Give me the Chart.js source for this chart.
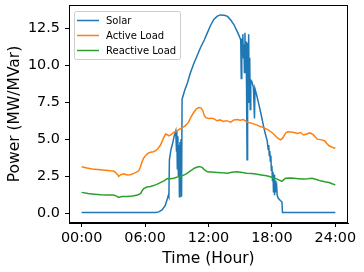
<!DOCTYPE html>
<html>
<head>
<meta charset="utf-8">
<script src="https://cdn.jsdelivr.net/npm/chart.js@4"></script>
<style>
  html, body { margin: 0; padding: 0; background: #fff; }
  canvas { display: block; }
</style>
</head>
<body>
<canvas id="myChart" width="364" height="272"></canvas>
<script>
// series labels and colours
const seriesNames = ['Solar', 'Active Load', 'Reactive Load'];
const seriesColors = ['#1f77b4', '#ff7f0e', '#2ca02c'];

// tick values (hours / MW)
const xTicks = [0, 6, 12, 18, 24];
const yTicks = [0, 2.5, 5, 7.5, 10, 12.5];

// solar output
const solarT = [0, 7.0, 7.3, 7.6, 7.9, 8.1, 8.2, 8.25, 8.3, 8.45, 8.6, 8.75, 8.9,
  8.97, 9.0, 9.05, 9.1, 9.15, 9.2, 9.25, 9.3, 9.35, 9.4, 9.45, 9.5, 9.75, 10.0,
  10.3, 10.6, 10.9, 11.25, 11.6, 11.9, 12.2, 12.5, 12.8, 13.1, 13.5, 13.8, 14.1,
  14.4, 14.7, 14.95, 15.05, 15.1, 15.15, 15.2, 15.25, 15.3, 15.35, 15.4, 15.45,
  15.5, 15.55, 15.6, 15.65, 15.7, 15.75, 15.8, 15.85, 15.9, 15.95, 16.0, 16.1,
  16.25, 16.35, 16.4, 16.55, 16.75, 17.0, 17.2, 17.4, 17.55, 17.65, 17.7, 17.75,
  17.8, 17.85, 17.9, 17.95, 18.0, 18.05, 18.1, 18.15, 18.2, 18.25, 18.3, 18.35,
  18.45, 18.5, 18.6, 18.8, 18.95, 19.0, 24];
const solarV = [0.04, 0.04, 0.08, 0.22, 0.5, 0.95, 1.2, 1.1, 3.6, 4.3, 4.7, 5.2, 5.55,
  4.2, 5.6, 3.0, 5.2, 2.5, 4.6, 1.1, 4.8, 2.0, 5.0, 1.1, 7.7, 8.3, 8.8,
  9.5, 10.1, 10.6, 11.2, 11.7, 12.2, 12.7, 13.1, 13.3, 13.4, 13.38, 13.3, 13.05,
  12.75, 12.3, 11.9, 11.7, 9.1, 11.8, 11.0, 12.1, 10.5, 11.4, 9.5, 12.2,
  10.0, 11.6, 8.5, 3.6, 11.5, 7.5, 12.1, 8.0, 10.5, 7.0, 9.0, 8.9,
  8.5, 6.4, 8.4, 8.0, 7.4, 6.6, 5.9, 5.3, 4.9, 4.3, 4.6, 3.9,
  4.2, 3.5, 3.9, 2.9, 3.2, 2.2, 2.8, 1.4, 2.6, 1.2, 2.2, 1.4,
  1.8, 1.2, 1.0, 0.85, 0.75, 0.04, 0.04];

// active load
const activeT = [0, 0.5, 1, 1.5, 1.8, 2.2, 2.74, 3.0, 3.2, 3.4, 3.5, 3.7, 4.0, 4.3,
  4.6, 5.0, 5.4, 5.55, 5.7, 5.85, 6.05, 6.3, 6.5, 6.8, 7.0, 7.2, 7.46, 7.7, 7.94,
  8.1, 8.25, 8.45, 8.7, 9.0, 9.3, 9.5, 9.8, 10.1, 10.35, 10.6, 10.85, 11.1, 11.3,
  11.45, 11.6, 11.75, 12.0, 12.3, 12.5, 12.8, 13.1, 13.4, 13.7, 14.1, 14.4, 14.7,
  15.0, 15.3, 15.55, 15.8, 16.2, 16.6, 16.9, 17.2, 17.6, 18.0, 18.3, 18.5, 18.8,
  19.0, 19.3, 19.5, 19.75, 20.1, 20.4, 20.7, 21.0, 21.3, 21.6, 21.9, 22.3, 22.7,
  23.0, 23.2, 23.4, 23.7, 24];
const activeV = [3.13, 3.05, 2.98, 2.95, 2.93, 2.9, 2.86, 2.85, 2.75, 2.6, 2.48, 2.6, 2.65, 2.58,
  2.6, 2.7, 2.86, 3.1, 3.45, 3.7, 3.9, 4.05, 4.12, 4.15, 4.22, 4.35, 4.6, 5.0, 5.35,
  5.3, 5.22, 5.3, 5.45, 5.55, 5.7, 5.78, 5.9, 6.13, 6.5, 6.8, 7.05, 7.14, 7.1,
  6.95, 6.6, 6.45, 6.4, 6.42, 6.38, 6.24, 6.3, 6.2, 6.25, 6.15, 6.3, 6.33,
  6.28, 6.32, 6.2, 6.13, 6.05, 5.95, 5.85, 5.78, 5.65, 5.45, 5.25, 5.1, 4.95,
  5.05, 5.42, 5.5, 5.48, 5.45, 5.38, 5.45, 5.28, 5.35, 5.42, 5.3, 5.0, 4.95,
  4.88, 4.7, 4.55, 4.45, 4.39];

// reactive load
const reactiveT = [0, 0.6, 1.2, 1.8, 2.4, 3.0, 3.3, 3.5, 3.8, 4.3, 4.8, 5.3, 5.6, 5.75,
  5.9, 6.2, 6.5, 6.8, 7.15, 7.5, 7.8, 8.1, 8.4, 8.7, 9.1, 9.5, 9.9, 10.3, 10.7,
  11.1, 11.4, 11.65, 11.9, 12.3, 12.8, 13.3, 13.8, 14.2, 14.7, 15.2, 15.6, 16.1,
  16.6, 17.0, 17.5, 18.0, 18.5, 18.95, 19.15, 19.3, 19.7, 20.1, 20.5, 21.0, 21.4,
  21.8, 22.2, 22.6, 23.0, 23.4, 23.7, 24];
const reactiveV = [1.4, 1.32, 1.28, 1.24, 1.23, 1.22, 1.15, 1.06, 1.12, 1.13, 1.16, 1.22, 1.35, 1.55,
  1.67, 1.76, 1.8, 1.86, 1.96, 2.08, 2.18, 2.34, 2.33, 2.36, 2.45, 2.52, 2.65, 2.86, 3.05,
  3.15, 3.09, 2.9, 2.79, 2.78, 2.75, 2.72, 2.7, 2.76, 2.79, 2.74, 2.7, 2.68,
  2.63, 2.58, 2.52, 2.42, 2.3, 2.14, 2.28, 2.36, 2.38, 2.36, 2.33, 2.3, 2.32,
  2.36, 2.27, 2.18, 2.12, 2.07, 1.98, 1.91];

const toPoints = (t, v) => t.map((x, i) => ({ x: x, y: v[i] }));

const FONT = "'DejaVu Sans', sans-serif";
const ctx = document.getElementById('myChart');

// black box round the plot
const frame = {
  id: 'frame',
  afterDatasetsDraw(chart) {
    const a = chart.chartArea;
    const c = chart.ctx;
    c.save();
    c.strokeStyle = '#000';
    c.lineWidth = 1;
    c.strokeRect(Math.round(a.left) + 0.5, Math.round(a.top) + 0.5,
      Math.round(a.right - a.left) - 1, Math.round(a.bottom - a.top) - 1);
    c.restore();
  }
};

// matplotlib style legend in the upper left
const mplLegend = {
  id: 'mplLegend',
  afterDraw(chart) {
    const c = chart.ctx;
    const a = chart.chartArea;
    const x0 = a.left + 5, y0 = a.top + 6, w = 106, h = 48;
    c.save();
    c.fillStyle = 'rgba(255,255,255,0.8)';
    c.strokeStyle = '#cccccc';
    c.lineWidth = 1;
    c.beginPath();
    c.roundRect(x0 + 0.5, y0 + 0.5, w, h, 2);
    c.fill();
    c.stroke();
    c.font = '10px ' + FONT;
    c.textBaseline = 'middle';
    c.fillStyle = '#000';
    seriesNames.forEach((name, i) => {
      const y = y0 + 9.5 + i * 15;
      c.strokeStyle = seriesColors[i];
      c.lineWidth = 1.5;
      c.beginPath();
      c.moveTo(x0 + 3, y);
      c.lineTo(x0 + 25, y);
      c.stroke();
      c.fillText(name, x0 + 32, y + 0.5);
    });
    c.restore();
  }
};

const pad = (h) => String(h).padStart(2, '0') + ':00';

new Chart(ctx, {
  type: 'line',
  data: {
    datasets: [
      { label: seriesNames[0], data: toPoints(solarT, solarV), borderColor: seriesColors[0], order: 3 },
      { label: seriesNames[1], data: toPoints(activeT, activeV), borderColor: seriesColors[1], order: 2 },
      { label: seriesNames[2], data: toPoints(reactiveT, reactiveV), borderColor: seriesColors[2], order: 1 }
    ]
  },
  options: {
    responsive: false,
    animation: false,
    devicePixelRatio: 1,
    layout: { padding: { top: 5, right: 16, left: 0, bottom: 0 } },
    elements: {
      point: { radius: 0 },
      line: { borderWidth: 1.5, tension: 0, fill: false }
    },
    plugins: {
      legend: { display: false },
      tooltip: { enabled: false }
    },
    scales: {
      x: {
        type: 'linear',
        min: -1.2,
        max: 25.2,
        afterBuildTicks: (s) => { s.ticks = xTicks.map(v => ({ value: v })); },
        afterFit: (s) => { s.height = 49; s.paddingLeft = 0; s.paddingRight = 0; },
        grid: { display: true, drawOnChartArea: false, tickLength: 4, color: '#000' },
        border: { display: true, color: '#000' },
        ticks: {
          color: '#000',
          font: { family: FONT, size: 14.4 },
          padding: 3,
          maxRotation: 0,
          callback: (v) => pad(v)
        },
        title: {
          display: true,
          text: 'Time (Hour)',
          color: '#000',
          font: { family: FONT, size: 15.5 },
          padding: { top: 0, bottom: 4 }
        }
      },
      y: {
        type: 'linear',
        min: -0.67,
        max: 14.07,
        afterBuildTicks: (s) => { s.ticks = yTicks.map(v => ({ value: v })); },
        afterFit: (s) => { s.width = 69; s.paddingTop = 0; s.paddingBottom = 0; },
        grid: { display: true, drawOnChartArea: false, tickLength: 4, color: '#000' },
        border: { display: true, color: '#000' },
        ticks: {
          color: '#000',
          font: { family: FONT, size: 14.4 },
          padding: 5,
          callback: (v) => v.toFixed(1)
        },
        title: {
          display: true,
          text: 'Power (MW/MVar)',
          color: '#000',
          font: { family: FONT, size: 15.5 },
          padding: { top: 6, bottom: 0 }
        }
      }
    }
  },
  plugins: [frame, mplLegend]
});
</script>
</body>
</html>
